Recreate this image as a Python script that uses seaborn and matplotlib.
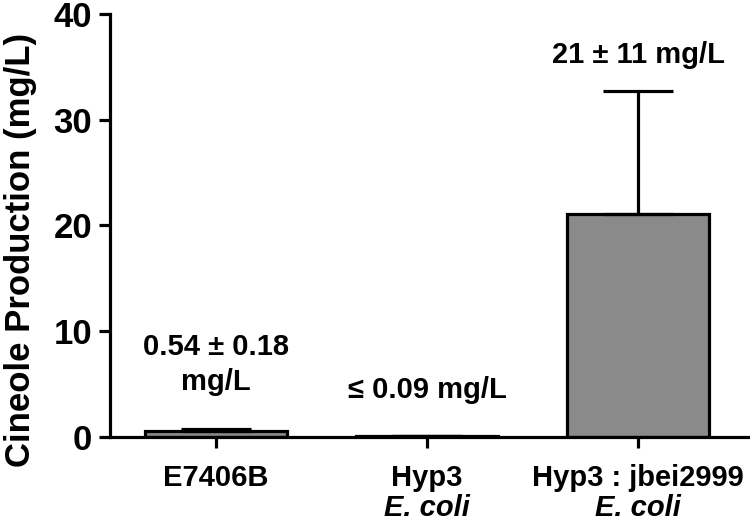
import matplotlib
matplotlib.use("Agg")
import matplotlib.pyplot as plt
import matplotlib.transforms as mtransforms
import seaborn as sns
import pandas as pd

strains = ["E7406B", "Hyp3", "Hyp3 : jbei2999"]
second_line = ["", "E. coli", "E. coli"]
production = [0.54, 0.05, 21.1]
error_up = [0.18, 0.0, 11.6]
annotations = ["0.54 \u00b1 0.18\nmg/L", "\u2264 0.09 mg/L", "21 \u00b1 11 mg/L"]
annot_y = [4.44, 3.69, 35.4]

sns.set_style("ticks")
plt.rcParams["font.family"] = ["Liberation Sans", "DejaVu Sans"]
plt.rcParams["font.weight"] = "bold"
plt.rcParams["text.color"] = "black"
plt.rcParams["axes.labelcolor"] = "black"

df = pd.DataFrame({"strain": strains, "value": production})

fig = plt.figure(figsize=(7.5, 5.25), dpi=100)
ax = fig.add_axes([0.147, 0.168, 0.853, 0.805])

sns.barplot(data=df, x="strain", y="value", color="#8a8a8a", saturation=1,
            edgecolor="black", linewidth=2.3, width=0.67, errorbar=None, ax=ax)

ax.errorbar(range(len(strains)), production, yerr=[[0]*3, error_up], fmt="none",
            ecolor="black", elinewidth=2.3, capsize=25, capthick=2.3, zorder=5)

ax.set_ylim(0, 40)
ax.set_xlim(-0.5, 2.53)
ax.set_yticks([0, 10, 20, 30, 40])
ax.set_xticks(range(len(strains)))
ax.set_xticklabels([""] * len(strains))
ax.set_xlabel("")
ax.set_ylabel("Cineole Production (mg/L)", fontsize=25, fontweight="bold")
ax.yaxis.set_label_coords(-0.115, 0.442)

for s in ["top", "right"]:
    ax.spines[s].set_visible(False)
for s in ["left", "bottom"]:
    ax.spines[s].set_linewidth(2.3)
    ax.spines[s].set_color("black")

ax.tick_params(axis="y", length=8, width=2.3, labelsize=25, pad=5, colors="black")
ax.tick_params(axis="x", length=8, width=2.3, colors="black")
for lbl in ax.get_yticklabels():
    lbl.set_fontweight("bold")

trans = mtransforms.blended_transform_factory(ax.transData, ax.transAxes)
for i, (t1, t2) in enumerate(zip(strains, second_line)):
    ax.text(i, -0.117, t1, transform=trans, ha="center", va="baseline",
            fontsize=21, fontweight="bold")
    if t2:
        ax.text(i, -0.188, t2, transform=trans, ha="center", va="baseline",
                fontsize=21, fontweight="bold", fontstyle="italic")

for i, (t, y) in enumerate(zip(annotations, annot_y)):
    ax.text(i, y, t, ha="center", va="baseline", fontsize=21, fontweight="bold",
            linespacing=1.3)

fig.savefig("out.png", dpi=100)
